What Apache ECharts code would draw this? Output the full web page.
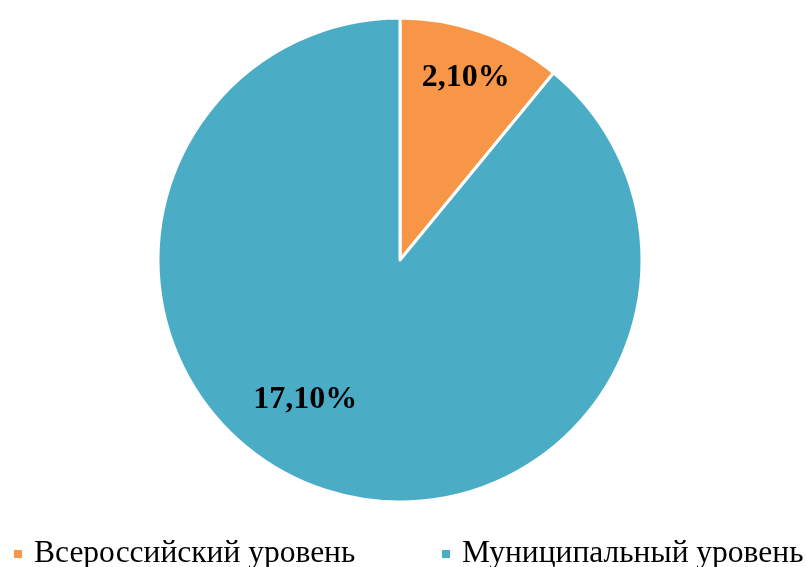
<!DOCTYPE html>
<html>
<head>
<meta charset="utf-8">
<script src="https://cdn.jsdelivr.net/npm/echarts@6/dist/echarts.min.js"></script>
<style>
    html, body { margin: 0; padding: 0; background: #fff; }
    #chart { width: 806px; height: 567px; }
</style>
</head>
<body>
<div id="chart"></div>
<script>
const categories = ['Всероссийский уровень', 'Муниципальный уровень']
const values = [2.1, 17.1]
const labels = ['2,10%', '17,10%']
const colors = ['#F79646', '#4BACC6']
// label nudges away from the default inside spot, px
const labelOffsets = [[24, -66], [-53, 23]]
const legendLefts = [12, 440]

const chart = echarts.init(document.getElementById('chart'))

const serif = '"Liberation Serif", "Times New Roman", serif'

const option = {
    animation: false,
    color: colors,
    textStyle: { fontFamily: serif },
    // one legend per item so the long second label never wraps
    legend: categories.map((name, i) => ({
        left: legendLefts[i],
        top: 538,
        padding: 0,
        itemWidth: 10,
        itemHeight: 10,
        icon: 'rect',
        selectedMode: false,
        textStyle: {
            fontFamily: serif,
            fontSize: 31.5,
            color: '#000',
            padding: [0, 0, 0, 6]
        },
        data: [name]
    })),
    series: [
        {
            type: 'pie',
            center: [400, 260],
            radius: [0, 242],
            startAngle: 90,
            clockwise: true,
            itemStyle: { borderColor: '#fff', borderWidth: 3 },
            label: {
                position: 'inside',
                fontFamily: serif,
                fontSize: 32,
                fontWeight: 'bold',
                color: '#000'
            },
            labelLine: { show: false },
            emphasis: { disabled: true },
            data: categories.map((name, i) => ({
                name: name,
                value: values[i],
                label: { formatter: labels[i], offset: labelOffsets[i] }
            }))
        }
    ]
}

chart.setOption(option)
</script>
</body>
</html>
